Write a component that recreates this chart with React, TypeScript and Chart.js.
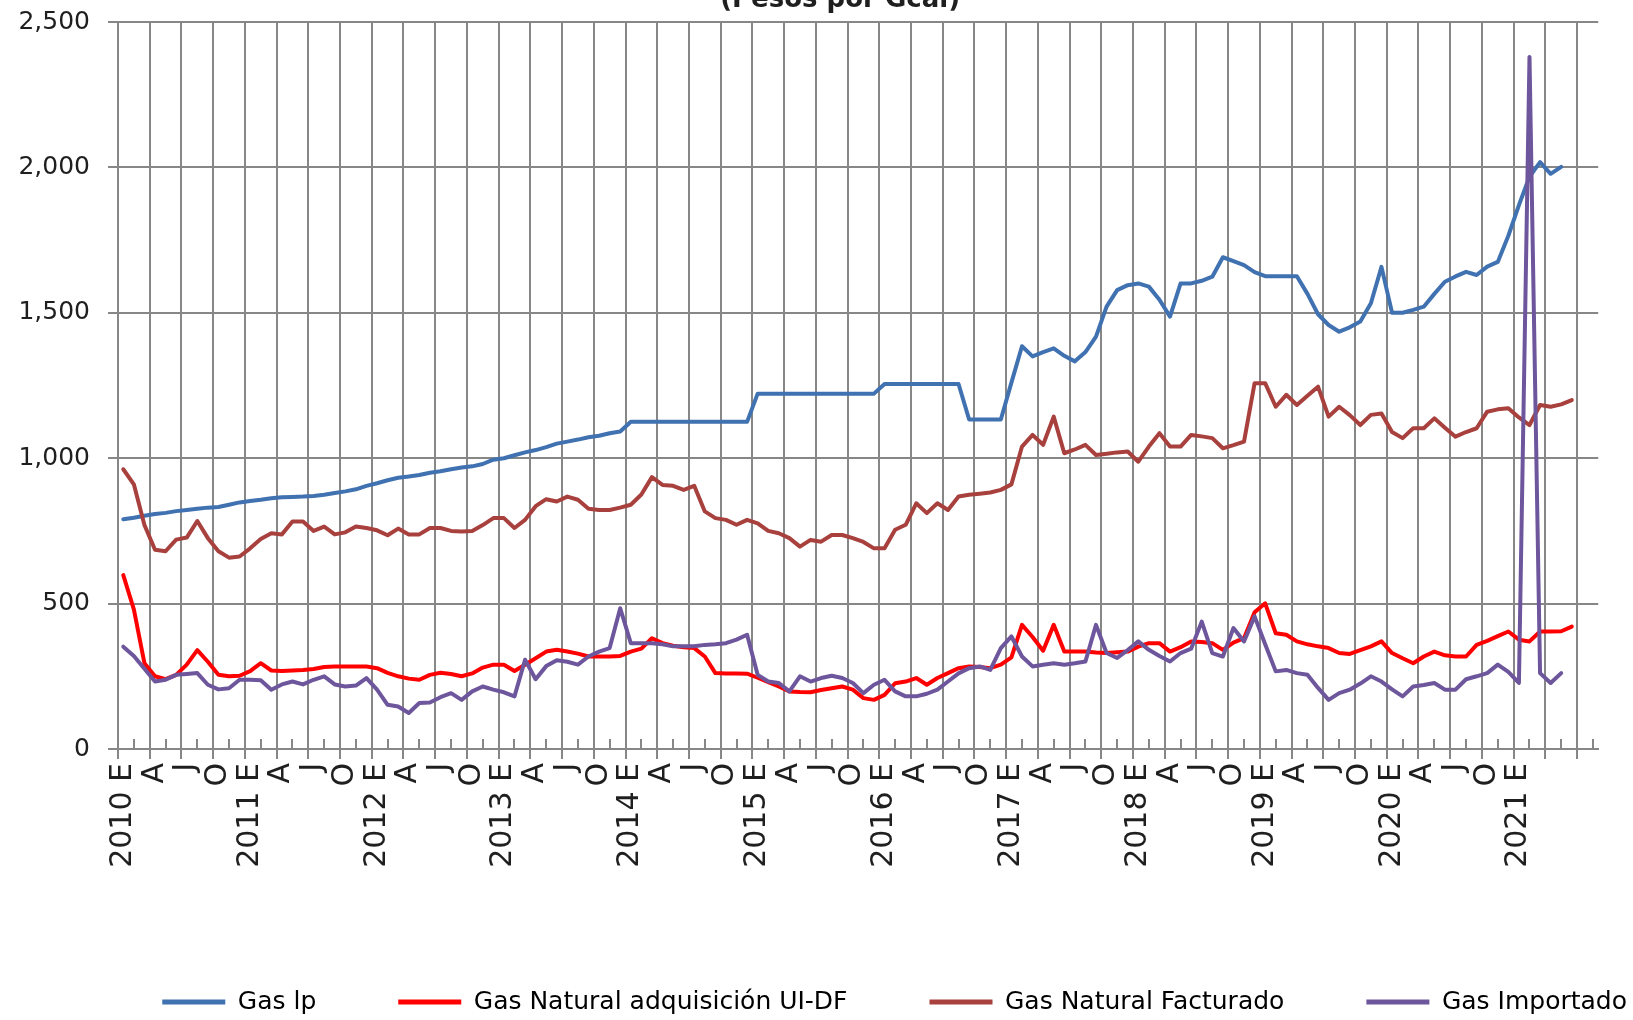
import React, { useEffect, useRef } from 'react';
import { Chart, registerables } from 'chart.js';

Chart.register(...registerables);

const TITLE = '(Pesos por Gcal)';
const FONT = '"DejaVu Sans", "Liberation Sans", sans-serif';
const TEXT_COLOR = '#1f1f1f';
const GRID_COLOR = '#878787';

const SERIES_LABELS = ['Gas lp', 'Gas Natural adquisición UI-DF', 'Gas Natural Facturado', 'Gas Importado'];
const SERIES_COLORS = ['#4071B0', '#FF0000', '#A8413D', '#6D569C'];

// quarterly tick labels (E = enero, A = abril, J = julio, O = octubre)
const X_TICK_LABELS = [
  '2010 E', 'A', 'J', 'O', '2011 E', 'A', 'J', 'O', '2012 E', 'A', 'J', 'O',
  '2013 E', 'A', 'J', 'O', '2014 E', 'A', 'J', 'O', '2015 E', 'A', 'J', 'O',
  '2016 E', 'A', 'J', 'O', '2017 E', 'A', 'J', 'O', '2018 E', 'A', 'J', 'O',
  '2019 E', 'A', 'J', 'O', '2020 E', 'A', 'J', 'O', '2021 E',
];
const MONTHS_ON_AXIS = 140; // ene-2010 .. ago-2021
const Y_MIN = 0;
const Y_MAX = 2500;
const Y_STEP = 500;

// monthly values from Jan 2010
const GAS_LP = [
  790, 795, 802, 808, 812, 818, 822, 826, 830, 832, 840, 848,
  853, 857, 862, 866, 867, 868, 870, 874, 880, 886, 893, 905,
  914, 924, 933, 937, 942, 950, 955, 962, 968, 972, 980, 995,
  1000, 1010, 1020, 1028, 1038, 1050, 1057, 1064, 1072, 1077, 1086, 1092,
  1125, 1125, 1125, 1125, 1125, 1125, 1125, 1125, 1125, 1125, 1125, 1125,
  1222, 1222, 1222, 1222, 1222, 1222, 1222, 1222, 1222, 1222, 1222, 1222,
  1255, 1255, 1255, 1255, 1255, 1255, 1255, 1255, 1133, 1133, 1133, 1133,
  1260, 1385, 1350, 1365, 1378, 1352, 1333, 1365, 1418, 1521, 1578, 1595,
  1601, 1590, 1545, 1487, 1601, 1601, 1610, 1624, 1691, 1678, 1664, 1640,
  1626, 1626, 1626, 1626, 1565, 1495, 1458, 1435, 1450, 1470, 1533, 1658,
  1500, 1500, 1510, 1521, 1565, 1607, 1625, 1641, 1630, 1659, 1675, 1765,
  1870, 1968, 2018, 1978, 2002,
];

const GAS_NATURAL_UIDF = [
  598, 480, 295, 250, 240, 255, 290, 340, 300, 255, 250, 252,
  268, 295, 270, 268, 270, 272, 275, 282, 284, 284, 284, 284,
  278, 262, 250, 242, 238, 255, 262, 258, 250, 260, 280, 290,
  290, 268, 290, 312, 335, 341, 335, 328, 318, 318, 318, 320,
  335, 345, 381, 364, 355, 350, 347, 318, 261, 260, 260, 259,
  245, 230, 215, 198, 196, 195, 203, 209, 215, 204, 175, 169,
  186, 226, 232, 244, 221, 244, 261, 278, 284, 282, 278, 290,
  315, 427, 385, 338, 427, 335, 335, 335, 332, 330, 333, 335,
  352, 364, 364, 335, 350, 370, 368, 364, 341, 366, 381, 470,
  501, 398, 393, 370, 360, 353, 347, 330, 327, 340, 353, 370,
  330, 312, 295, 318, 335, 322, 318, 318, 358, 372, 388, 404,
  376, 370, 404, 404, 405, 421,
];

const GAS_NATURAL_FACTURADO = [
  962, 910, 770, 685, 680, 720, 727, 784, 725, 680, 658, 662,
  690, 722, 742, 738, 782, 782, 750, 765, 738, 745, 765, 760,
  752, 735, 758, 738, 738, 760, 760, 750, 748, 750, 770, 794,
  794, 760, 788, 835, 859, 851, 868, 857, 826, 822, 822, 830,
  840, 875, 935, 908, 905, 891, 905, 817, 794, 788, 771, 788,
  776, 750, 742, 725, 696, 719, 713, 736, 736, 725, 712, 690,
  690, 754, 771, 845, 811, 845, 822, 868, 874, 878, 882, 891,
  910, 1040, 1080, 1046, 1143, 1017, 1030, 1046, 1011, 1015, 1020, 1023,
  988, 1040, 1086, 1040, 1040, 1080, 1075, 1069, 1034, 1045, 1057, 1258,
  1258, 1177, 1218, 1183, 1215, 1246, 1143, 1177, 1148, 1114, 1149, 1154,
  1090, 1069, 1103, 1103, 1137, 1105, 1074, 1090, 1103, 1160, 1168, 1172,
  1140, 1114, 1183, 1177, 1185, 1200,
];

const GAS_IMPORTADO = [
  352, 320, 276, 232, 238, 255, 258, 261, 221, 205, 209, 238,
  238, 236, 204, 222, 232, 222, 238, 250, 222, 215, 218, 244,
  204, 152, 146, 124, 158, 160, 178, 192, 169, 198, 215, 204,
  195, 181, 307, 240, 285, 305, 300, 290, 318, 335, 347, 484,
  364, 364, 364, 360, 353, 353, 353, 358, 360, 364, 376, 393,
  255, 232, 227, 198, 250, 232, 244, 252, 244, 227, 192, 221,
  238, 198, 181, 181, 190, 204, 232, 260, 278, 284, 272, 347,
  387, 318, 284, 290, 295, 290, 295, 301, 427, 330, 313, 340,
  370, 341, 320, 301, 330, 345, 438, 330, 318, 416, 370, 456,
  360, 267, 272, 261, 255, 210, 169, 192, 204, 225, 250, 232,
  205, 181, 215, 220, 227, 204, 204, 240, 250, 261, 290, 265,
  227, 2380, 261, 227, 261,
];

const SERIES_VALUES = [GAS_LP, GAS_NATURAL_UIDF, GAS_NATURAL_FACTURADO, GAS_IMPORTADO];
const DRAW_ORDER = [4, 2, 3, 1];

const isMajor = (v: number | undefined) => v !== undefined && v % 3 === 0;

const minorTicksPlugin = {
  id: 'minorTicks',
  beforeDatasetsDraw(chart: any) {
    const xs = chart.scales.x;
    const { ctx, chartArea } = chart;
    ctx.save();
    ctx.strokeStyle = GRID_COLOR;
    ctx.lineWidth = 2;
    for (const t of xs.ticks) {
      if (isMajor(t.value)) continue;
      const px = Math.round(xs.getPixelForValue(t.value));
      ctx.beginPath();
      ctx.moveTo(px, chartArea.bottom);
      ctx.lineTo(px, chartArea.bottom - 10);
      ctx.stroke();
    }
    ctx.restore();
  },
};

const clippedTitlePlugin = {
  id: 'clippedTitle',
  afterDraw(chart: any) {
    const { ctx, chartArea } = chart;
    ctx.save();
    ctx.font = `bold 26px ${FONT}`;
    ctx.fillStyle = TEXT_COLOR;
    ctx.textAlign = 'center';
    ctx.textBaseline = 'alphabetic';
    ctx.fillText(TITLE, (chartArea.left + chartArea.right) / 2 - 18, 7);
    ctx.restore();
  },
};

export default function App() {
  const canvasRef = useRef<HTMLCanvasElement | null>(null);

  useEffect(() => {
    if (!canvasRef.current) return;
    const datasets = SERIES_VALUES.map((values, i) => ({
      label: SERIES_LABELS[i],
      data: values.map((v, k) => ({ x: k + 0.5, y: v })),
      borderColor: SERIES_COLORS[i],
      backgroundColor: SERIES_COLORS[i],
      borderWidth: 4,
      pointRadius: 0,
      pointHoverRadius: 0,
      tension: 0,
      borderJoinStyle: 'round' as const,
      borderCapStyle: 'round' as const,
      order: DRAW_ORDER[i],
    }));

    const chart = new Chart(canvasRef.current, {
      type: 'line',
      data: { datasets },
      plugins: [minorTicksPlugin, clippedTitlePlugin],
      options: {
        animation: false,
        responsive: true,
        maintainAspectRatio: false,
        events: [],
        layout: { padding: { left: 0, right: -76, top: 22, bottom: -4.5 } },
        scales: {
          x: {
            type: 'linear',
            min: 0,
            max: MONTHS_ON_AXIS,
            afterBuildTicks: (axis: any) => {
              const t: { value: number }[] = [];
              for (let v = 0; v < MONTHS_ON_AXIS; v += 1.5) t.push({ value: v });
              axis.ticks = t;
            },
            afterFit: (s: any) => {
              s.height = 158.5;
            },
            grid: {
              color: (c: any) => (isMajor(c.tick?.value) ? GRID_COLOR : 'rgba(0,0,0,0)'),
              tickColor: (c: any) => (isMajor(c.tick?.value) ? GRID_COLOR : 'rgba(0,0,0,0)'),
              lineWidth: 2,
              tickLength: 10,
              drawTicks: true,
            },
            border: { display: true, color: GRID_COLOR, width: 2 },
            ticks: {
              autoSkip: false,
              maxRotation: 90,
              minRotation: 90,
              padding: 4,
              labelOffset: 5,
              color: TEXT_COLOR,
              font: { family: FONT, size: 30 },
              callback: (value: any) => {
                const v = Number(value);
                if (!isMajor(v)) return '';
                return X_TICK_LABELS[v / 3] ?? '';
              },
            },
          },
          y: {
            min: Y_MIN,
            max: Y_MAX,
            afterFit: (s: any) => {
              s.width = 118;
              s.paddingTop = 0;
              s.paddingBottom = 0;
            },
            grid: { color: GRID_COLOR, tickColor: GRID_COLOR, lineWidth: 2, tickLength: 10 },
            border: { display: true, color: GRID_COLOR, width: 2 },
            ticks: {
              stepSize: Y_STEP,
              padding: 18,
              color: TEXT_COLOR,
              font: { family: FONT, size: 25 },
              callback: (value: any) => Number(value).toLocaleString('en-US'),
            },
          },
          y2: {
            position: 'right',
            display: true,
            grid: { display: false },
            border: { display: false },
            ticks: { display: false },
            afterFit: (s: any) => {
              s.width = 95;
              s.paddingTop = 0;
              s.paddingBottom = 0;
            },
          },
        },
        plugins: {
          title: { display: false },
          tooltip: { enabled: false },
          legend: {
            display: true,
            position: 'bottom',
            align: 'end',
            labels: {
              boxWidth: 63,
              boxHeight: 5,
              padding: 82,
              color: TEXT_COLOR,
              font: { family: FONT, size: 25 },
              generateLabels: (ch: any) =>
                ch.data.datasets.map((ds: any, i: number) => ({
                  text: ds.label,
                  fillStyle: ds.borderColor,
                  strokeStyle: ds.borderColor,
                  lineWidth: 0,
                  hidden: false,
                  datasetIndex: i,
                })),
            },
          },
        },
      },
    } as any);

    return () => chart.destroy();
  }, []);

  return (
    <div style={{ position: 'fixed', left: 0, top: 0, width: 1633, height: 1020, background: '#ffffff' }}>
      <canvas ref={canvasRef} />
    </div>
  );
}
